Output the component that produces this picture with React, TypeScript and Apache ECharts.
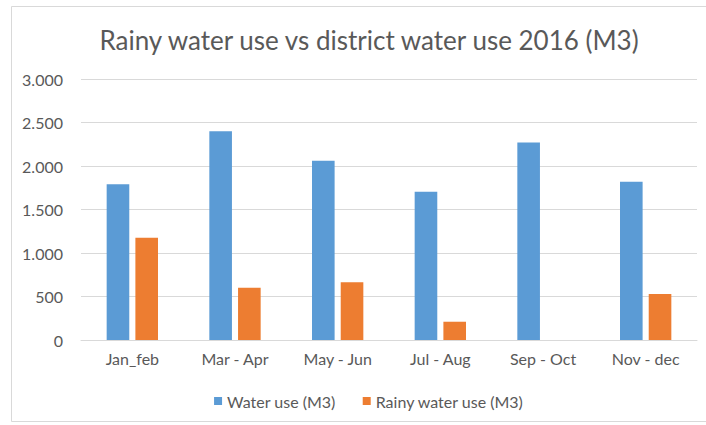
import React, { useEffect, useRef } from "react";
import * as echarts from "echarts";

const categories = ["Jan_feb", "Mar - Apr", "May - Jun", "Jul - Aug", "Sep - Oct", "Nov - dec"];
const waterUse = [1790, 2400, 2060, 1705, 2270, 1820];
const rainyWaterUse = [1175, 600, 665, 210, null, 530];
const yTicks = [0, 500, 1000, 1500, 2000, 2500, 3000];
const titleText = "Rainy water use vs district water use 2016 (M3)";
const seriesNames = ["Water use (M3)", "Rainy water use (M3)"];

const FONT = "Lato, 'Open Sans', sans-serif";
const TEXT_COLOR = "#595959";

export default function App() {
  const ref = useRef<HTMLDivElement>(null);
  useEffect(() => {
    if (!ref.current) return;
    const chart = echarts.init(ref.current, null, { renderer: "svg" });
    chart.setOption({
      animation: false,
      backgroundColor: "#ffffff",
      textStyle: { fontFamily: FONT },
      title: {
        text: titleText,
        left: "center",
        top: 22,
        textStyle: { fontFamily: FONT, fontSize: 26, fontWeight: "normal", color: TEXT_COLOR },
      },
      graphic: [
        {
          type: "rect",
          shape: { x: 11.5, y: 6.5, width: 715, height: 415 },
          style: { fill: "none", stroke: "#d9d9d9", lineWidth: 1 },
          silent: true,
        },
      ],
      legend: {
        data: seriesNames,
        bottom: 11,
        left: "center",
        itemWidth: 8,
        itemHeight: 8,
        itemGap: 27,
        icon: "rect",
        textStyle: { fontFamily: FONT, fontSize: 16, color: TEXT_COLOR },
      },
      grid: { left: 81, right: 41, top: 79, bottom: 85, containLabel: false },
      xAxis: {
        type: "category",
        data: categories,
        axisTick: { show: false },
        axisLine: { lineStyle: { color: "#d9d9d9" } },
        axisLabel: { fontFamily: FONT, fontSize: 16, color: TEXT_COLOR, margin: 10 },
      },
      yAxis: {
        type: "value",
        min: yTicks[0],
        max: yTicks[yTicks.length - 1],
        interval: 500,
        axisLine: { show: false },
        axisTick: { show: false },
        splitLine: { lineStyle: { color: "#d9d9d9" } },
        axisLabel: {
          fontFamily: FONT,
          fontSize: 16,
          color: TEXT_COLOR,
          margin: 18,
          formatter: (v: number) => (v >= 1000 ? Math.floor(v / 1000) + "." + String(v % 1000).padStart(3, "0") : String(v)),
        },
      },
      series: [
        {
          name: seriesNames[0],
          type: "bar",
          data: waterUse,
          itemStyle: { color: "#5b9bd5" },
          barGap: "27%",
          barCategoryGap: "50%",
        },
        {
          name: seriesNames[1],
          type: "bar",
          data: rainyWaterUse,
          itemStyle: { color: "#ed7d31" },
        },
      ],
    });
    return () => chart.dispose();
  }, []);
  return (
    <div style={{ position: "absolute", left: 0, top: 0, width: 706, height: 425, overflow: "hidden" }}>
      <div ref={ref} style={{ position: "absolute", left: 0, top: 0, width: 738, height: 425 }} />
    </div>
  );
}
